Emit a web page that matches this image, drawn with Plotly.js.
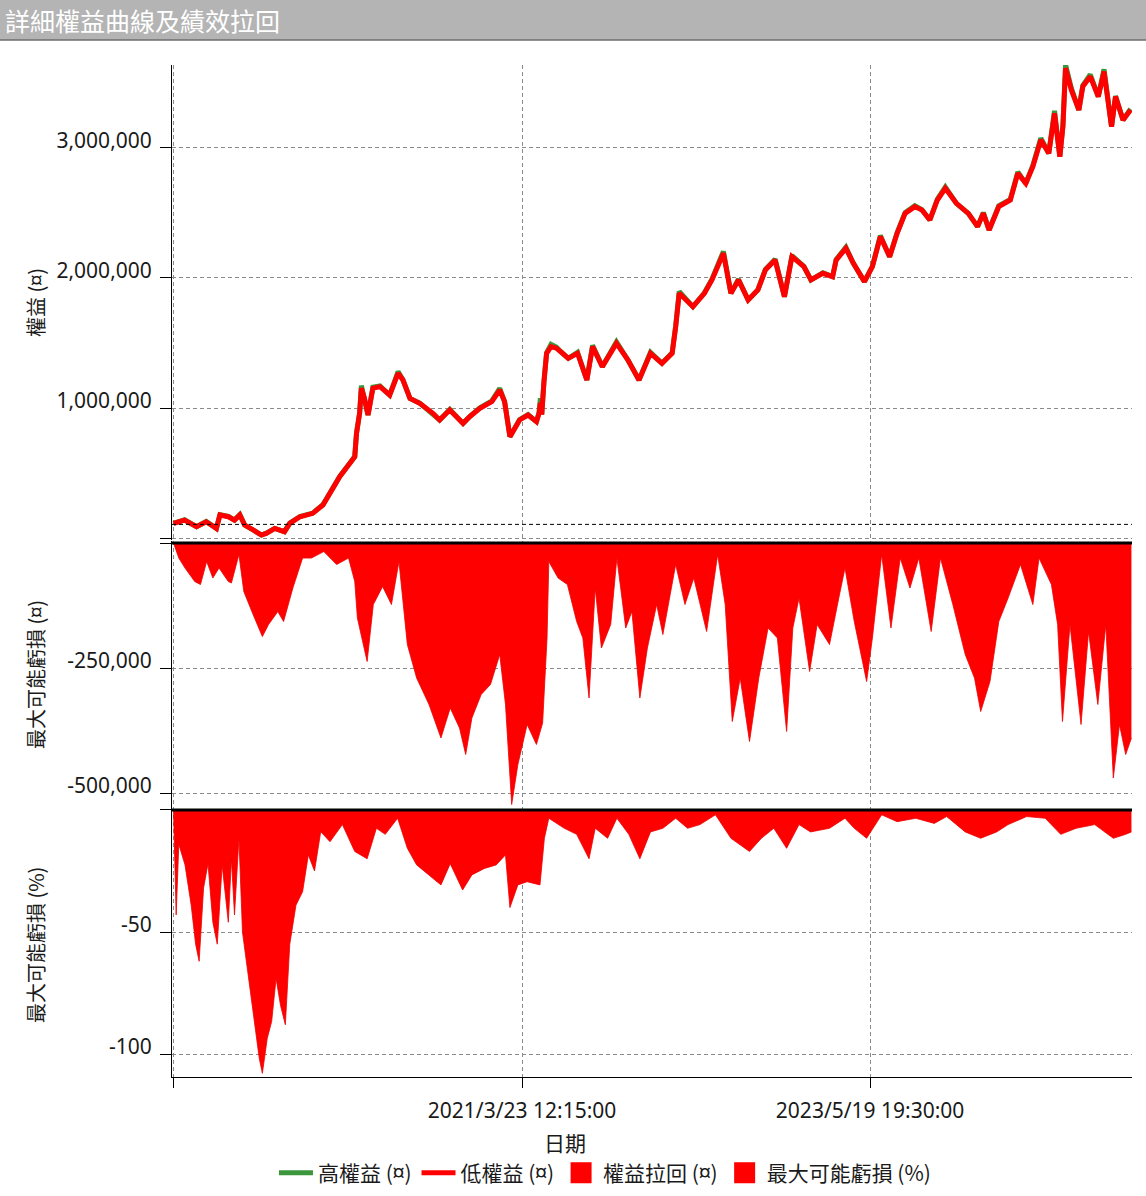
<!DOCTYPE html>
<html>
<head>
<meta charset="utf-8">
<script src="https://cdn.plot.ly/plotly-3.0.1.min.js"></script>
<style>
  html, body { margin: 0; padding: 0; background: #ffffff; }
  #chart { width: 1146px; height: 1196px; }
</style>
</head>
<body>
<div id="chart"></div>
<script>
// ---------- DATA ----------
const chartTitle = '詳細權益曲線及績效拉回';
const xAxisTitle = '日期';
const yTitleEquity = '權益 (¤)';
const yTitleDrawdown = '最大可能虧損 (¤)';
const yTitlePct = '最大可能虧損 (%)';
const seriesNames = ['高權益 (¤)', '低權益 (¤)', '權益拉回 (¤)', '最大可能虧損 (%)'];

const initialCapital = 105000;

const xTickVals = ['2019-01-25 12:00', '2021-03-23 12:15', '2023-05-19 19:30'];
const xTickText = ['', '2021/3/23 12:15:00', '2023/5/19 19:30:00'];

const equityTickVals = [0, 1000000, 2000000, 3000000];
const equityTickText = ['', '1,000,000', '2,000,000', '3,000,000'];
const ddTickVals = [0, -250000, -500000];
const ddTickText = ['', '-250,000', '-500,000'];
const pctTickVals = [0, -50, -100];
const pctTickText = ['', '-50', '-100'];

const equityDates = [
  '2019-01-25','2019-02-19','2019-03-18','2019-04-09','2019-05-02','2019-05-10','2019-05-29','2019-06-12','2019-06-24','2019-07-05',
  '2019-07-24','2019-08-12','2019-08-23','2019-09-11','2019-10-03','2019-10-15','2019-11-07','2019-12-06','2019-12-29','2020-01-14',
  '2020-02-05','2020-02-28','2020-03-10','2020-03-14','2020-03-21','2020-03-25','2020-04-01','2020-04-09','2020-04-20','2020-05-06',
  '2020-05-28','2020-06-16','2020-06-27','2020-07-13','2020-08-04','2020-09-03','2020-09-18','2020-10-11','2020-11-10','2020-11-25',
  '2020-12-18','2021-01-14','2021-02-01','2021-02-12','2021-02-24','2021-03-18','2021-04-06','2021-04-25','2021-05-01','2021-05-04',
  '2021-05-07','2021-05-12','2021-05-18','2021-05-28','2021-06-09','2021-06-23','2021-07-06','2021-07-27','2021-08-17','2021-08-30',
  '2021-09-21','2021-10-23','2021-11-18','2021-12-13','2022-01-08','2022-02-03','2022-02-26','2022-03-06','2022-03-14','2022-04-14',
  '2022-05-10','2022-05-27','2022-06-22','2022-07-09','2022-07-26','2022-08-17','2022-09-08','2022-09-25','2022-10-17','2022-11-07',
  '2022-11-24','2022-12-21','2023-01-06','2023-02-02','2023-02-24','2023-03-04','2023-03-26','2023-04-12','2023-05-07','2023-05-25',
  '2023-06-12','2023-07-03','2023-07-20','2023-08-07','2023-08-29','2023-09-14','2023-10-02','2023-10-19','2023-11-06','2023-12-01',
  '2023-12-28','2024-01-18','2024-01-31','2024-02-13','2024-03-06','2024-04-01','2024-04-18','2024-05-06','2024-05-22','2024-06-09',
  '2024-06-27','2024-07-10','2024-07-22','2024-07-29','2024-08-04','2024-08-17','2024-09-03','2024-09-12','2024-09-29','2024-10-17',
  '2024-10-30','2024-11-16','2024-11-25','2024-12-12','2024-12-29'
];
const equityLow = [
  113000,138000,87000,125000,74000,177000,164000,138000,177000,100000,
  62000,23000,36000,74000,49000,113000,164000,190000,254000,344000,
  472000,575000,625000,805000,959000,1152000,1074000,946000,1152000,1164000,
  1100000,1267000,1215000,1074000,1036000,959000,908000,985000,882000,933000,
  997000,1049000,1138000,1049000,779000,908000,946000,895000,960000,1040000,
  950000,1200000,1420000,1472000,1460000,1421000,1382000,1421000,1215000,1472000,
  1318000,1497000,1369000,1215000,1421000,1344000,1421000,1625000,1882000,1779000,
  1882000,1985000,2190000,1882000,1985000,1831000,1908000,2062000,2138000,1856000,
  2164000,2087000,1985000,2036000,2010000,2138000,2228000,2113000,1972000,2087000,
  2318000,2164000,2344000,2497000,2549000,2523000,2446000,2600000,2690000,2574000,
  2497000,2395000,2497000,2369000,2549000,2600000,2805000,2728000,2856000,3062000,
  2959000,3267000,2933000,3164000,3613000,3446000,3292000,3472000,3549000,3395000,
  3587000,3164000,3395000,3215000,3292000
];
const equityHigh = [
  113000,140000,87000,127000,74000,180000,166000,138000,180000,100000,
  62000,23000,38000,74000,49000,115000,166000,192000,256000,346000,
  474000,577000,627000,807000,961000,1172000,1076000,946000,1160000,1170000,
  1100000,1280000,1217000,1074000,1038000,959000,908000,990000,882000,935000,
  1002000,1055000,1152000,1049000,779000,912000,950000,895000,965000,1075000,
  950000,1205000,1425000,1490000,1468000,1421000,1382000,1428000,1215000,1482000,
  1318000,1508000,1369000,1215000,1428000,1344000,1425000,1630000,1896000,1779000,
  1886000,1990000,2205000,1882000,1990000,1831000,1910000,2066000,2145000,1856000,
  2172000,2090000,1985000,2040000,2010000,2142000,2236000,2113000,1972000,2090000,
  2326000,2164000,2350000,2503000,2556000,2526000,2446000,2606000,2700000,2574000,
  2497000,2395000,2503000,2369000,2555000,2605000,2815000,2728000,2866000,3075000,
  2959000,3285000,2933000,3170000,3640000,3460000,3292000,3480000,3565000,3395000,
  3605000,3164000,3400000,3215000,3300000
];

const ddDates = [
  '2019-01-25','2019-02-06','2019-02-20','2019-03-14','2019-03-27','2019-04-10','2019-04-24','2019-05-08','2019-05-29','2019-06-05',
  '2019-06-22','2019-07-03','2019-07-24','2019-08-14','2019-08-28','2019-09-18','2019-10-01','2019-10-22','2019-11-13','2019-12-03',
  '2019-12-31','2020-01-29','2020-02-25','2020-03-10','2020-03-16','2020-04-07','2020-04-21','2020-05-12','2020-06-01','2020-06-18',
  '2020-07-07','2020-07-28','2020-08-25','2020-09-21','2020-10-12','2020-11-02','2020-11-16','2020-11-30','2020-12-21','2021-01-11',
  '2021-02-01','2021-02-14','2021-02-28','2021-03-14','2021-04-04','2021-04-25','2021-05-09','2021-05-19','2021-05-23','2021-06-13',
  '2021-07-04','2021-07-25','2021-08-08','2021-08-22','2021-09-05','2021-09-19','2021-10-10','2021-10-24','2021-11-13','2021-11-27',
  '2021-12-15','2022-01-01','2022-01-22','2022-02-05','2022-03-06','2022-03-27','2022-04-16','2022-05-15','2022-06-09','2022-06-26',
  '2022-07-12','2022-07-30','2022-08-20','2022-09-10','2022-10-01','2022-10-22','2022-11-12','2022-11-26','2022-12-10','2023-01-03',
  '2023-01-20','2023-02-17','2023-03-10','2023-03-24','2023-04-14','2023-05-12','2023-05-25','2023-06-15','2023-07-06','2023-07-27',
  '2023-08-18','2023-09-07','2023-10-05','2023-10-26','2023-11-23','2023-12-21','2024-01-11','2024-01-25','2024-02-15','2024-03-06',
  '2024-03-27','2024-04-24','2024-05-22','2024-06-05','2024-07-03','2024-07-17','2024-07-28','2024-08-14','2024-09-08','2024-09-25',
  '2024-10-16','2024-11-03','2024-11-20','2024-12-04','2024-12-18','2024-12-31'
];
const ddValues = [
  0,-30000,-50000,-77000,-83000,-37000,-70000,-50000,-77000,-80000,
  -23000,-97000,-143000,-187000,-163000,-137000,-157000,-90000,-30000,-30000,
  -17000,-43000,-30000,-77000,-150000,-237000,-123000,-87000,-123000,-37000,
  -203000,-270000,-323000,-390000,-330000,-370000,-423000,-350000,-303000,-283000,
  -223000,-323000,-523000,-443000,-363000,-403000,-360000,-190000,-37000,-70000,
  -83000,-157000,-190000,-310000,-90000,-210000,-163000,-30000,-170000,-137000,
  -310000,-210000,-123000,-183000,-43000,-123000,-70000,-177000,-23000,-123000,
  -357000,-270000,-397000,-270000,-170000,-190000,-377000,-170000,-110000,-257000,
  -163000,-203000,-110000,-50000,-157000,-277000,-190000,-23000,-170000,-30000,
  -90000,-30000,-177000,-30000,-123000,-223000,-270000,-337000,-277000,-157000,
  -110000,-43000,-123000,-30000,-83000,-163000,-357000,-163000,-363000,-177000,
  -323000,-163000,-470000,-363000,-423000,-390000
];

const pctDates = [
  '2019-01-25','2019-01-31','2019-02-06','2019-02-20','2019-03-06','2019-03-16','2019-03-24','2019-04-03','2019-04-13','2019-04-24',
  '2019-05-04','2019-05-15','2019-05-29','2019-06-05','2019-06-12','2019-06-22','2019-06-30','2019-07-10','2019-07-24','2019-08-07',
  '2019-08-14','2019-08-25','2019-09-04','2019-09-14','2019-09-24','2019-10-05','2019-10-15','2019-10-29','2019-11-13','2019-11-26',
  '2019-12-10','2019-12-24','2020-01-14','2020-02-11','2020-03-10','2020-04-07','2020-04-28','2020-05-18','2020-06-15','2020-07-07',
  '2020-07-28','2020-08-25','2020-09-21','2020-10-12','2020-11-09','2020-11-30','2020-12-28','2021-01-24','2021-02-14','2021-02-24',
  '2021-03-14','2021-04-04','2021-05-03','2021-05-13','2021-05-23','2021-06-27','2021-07-25','2021-08-22','2021-09-05','2021-10-03',
  '2021-10-24','2021-11-20','2021-12-15','2022-01-08','2022-02-05','2022-03-06','2022-04-02','2022-04-30','2022-06-04','2022-07-09',
  '2022-08-20','2022-09-16','2022-10-14','2022-11-12','2022-12-10','2023-01-05','2023-02-17','2023-03-24','2023-04-14','2023-05-12',
  '2023-06-15','2023-07-20','2023-08-31','2023-10-12','2023-11-09','2023-12-21','2024-01-25','2024-03-01','2024-03-27','2024-05-08',
  '2024-06-19','2024-07-24','2024-08-28','2024-10-09','2024-11-20','2024-12-18','2024-12-31'
];
const pctValues = [
  0,-43,-14,-22.5,-39,-55,-62,-32,-22,-46,
  -55,-22.5,-46,-20,-43,-11.6,-50,-63.5,-82.6,-101.8,
  -107.9,-93.6,-86.7,-69,-80,-88,-55,-39,-33.5,-18.4,
  -25,-8.9,-13,-6,-17,-20,-7.5,-10,-3.4,-15.7,
  -22.5,-26.6,-30.7,-22,-32.8,-26.6,-24,-22.5,-18.4,-40,
  -30.7,-29.4,-30.7,-11.6,-3.4,-7.5,-10,-20,-7.5,-11.6,
  -3.4,-10,-20,-9,-7.5,-3.4,-7.5,-6,-2,-11.6,
  -17,-11.6,-7.5,-15.7,-6,-9,-7.5,-3.4,-7.5,-11.6,
  -2,-4.8,-3.4,-5.5,-2.7,-9,-11.6,-9,-6,-2.7,
  -3.4,-10,-7.5,-6,-11.6,-10,-9
];

// ---------- STYLE ----------
const FONT = 'Noto Sans, Noto Sans CJK TC, sans-serif';
const CJK = 'Noto Sans CJK TC, Noto Sans, sans-serif';
const gridDash = '4px,3px';
const gridColor = '#8a8a8a';
const RED = '#ff0000';

const traces = [
  { x: equityDates, y: equityHigh, name: seriesNames[0], type: 'scatter', mode: 'lines',
    line: { color: '#3c963c', width: 5 }, xaxis: 'x', yaxis: 'y', hoverinfo: 'skip' },
  { x: equityDates, y: equityLow, name: seriesNames[1], type: 'scatter', mode: 'lines',
    line: { color: RED, width: 5 }, xaxis: 'x', yaxis: 'y', hoverinfo: 'skip' },
  { x: ddDates, y: ddValues, name: seriesNames[2], type: 'scatter', mode: 'lines',
    fill: 'tozeroy', fillcolor: RED, line: { color: '#ee0000', width: 0.8 },
    xaxis: 'x', yaxis: 'y2', hoverinfo: 'skip', showlegend: false, legendgroup: 'dd' },
  { x: pctDates, y: pctValues, name: seriesNames[3], type: 'scatter', mode: 'lines',
    fill: 'tozeroy', fillcolor: RED, line: { color: '#ee0000', width: 0.8 },
    xaxis: 'x', yaxis: 'y3', hoverinfo: 'skip', showlegend: false, legendgroup: 'pct' },
  // square legend swatches for the two filled series (no data of their own)
  { x: [null], y: [null], name: seriesNames[2], type: 'scatter', mode: 'markers', legendgroup: 'dd',
    marker: { symbol: 'square', size: 16, color: RED, line: { color: RED, width: 5 } },
    xaxis: 'x', yaxis: 'y2', hoverinfo: 'skip' },
  { x: [null], y: [null], name: seriesNames[3], type: 'scatter', mode: 'markers', legendgroup: 'pct',
    marker: { symbol: 'square', size: 16, color: RED, line: { color: RED, width: 5 } },
    xaxis: 'x', yaxis: 'y3', hoverinfo: 'skip' }
];

function yAxis(domain, range, vals, text) {
  return {
    domain: domain, range: range, anchor: 'x',
    tickmode: 'array', tickvals: vals, ticktext: text,
    ticks: 'outside', ticklen: 11, tickcolor: '#000', tickwidth: 1,
    ticklabelstandoff: 4, ticklabelshift: -7,
    showline: true, linecolor: '#000', linewidth: 1,
    showgrid: true, gridcolor: gridColor, griddash: gridDash, gridwidth: 1,
    zeroline: false,
    tickfont: { family: FONT, size: 21, color: '#1a1a1a' },
    fixedrange: true
  };
}

const layout = {
  width: 1146, height: 1196,
  margin: { l: 172, r: 14, t: 65, b: 119, autoexpand: false },
  paper_bgcolor: '#ffffff', plot_bgcolor: '#ffffff',
  font: { family: FONT, size: 19, color: '#1a1a1a' },
  showlegend: true,
  legend: {
    orientation: 'h', x: 0.451, xanchor: 'center', y: -0.095, yanchor: 'middle',
    font: { family: CJK, size: 21, color: '#1a1a1a' },
    bgcolor: 'rgba(0,0,0,0)', itemwidth: 34, tracegroupgap: 0, traceorder: 'normal',
    itemsizing: 'trace'
  },
  xaxis: {
    type: 'date', anchor: 'y3',
    range: ['2019-01-21 14:00', '2025-01-01 07:00'],
    tickmode: 'array', tickvals: xTickVals, ticktext: xTickText,
    ticks: 'outside', ticklen: 10, tickcolor: '#000', tickwidth: 1,
    ticklabelstandoff: 5,
    showline: true, linecolor: '#000', linewidth: 1,
    showgrid: true, gridcolor: gridColor, griddash: gridDash, gridwidth: 1,
    zeroline: false,
    tickfont: { family: FONT, size: 21, color: '#1a1a1a' },
    fixedrange: true
  },
  yaxis: yAxis([0.5306, 1], [-15400, 3638000], equityTickVals, equityTickText),
  yaxis2: yAxis([0.2658, 0.5296], [-530000, 4000], ddTickVals, ddTickText),
  yaxis3: yAxis([0, 0.2658], [-109.4, 0.8], pctTickVals, pctTickText),
  shapes: [
    // title bar
    { type: 'rect', xref: 'paper', yref: 'paper', x0: -0.2, x1: 1.05, y0: 1.0247, y1: 1.08,
      fillcolor: '#b4b4b4', line: { width: 0 }, layer: 'below' },
    { type: 'line', xref: 'paper', yref: 'paper', x0: -0.2, x1: 1.05, y0: 1.0247, y1: 1.0247,
      line: { color: '#6e6e6e', width: 1.5 } },
    // initial capital reference line
    { type: 'line', xref: 'paper', yref: 'y', x0: 0, x1: 1, y0: initialCapital, y1: initialCapital,
      line: { color: '#000', width: 1, dash: gridDash }, layer: 'above' },
    // zero lines of drawdown panels
    { type: 'line', xref: 'paper', yref: 'y2', x0: 0, x1: 1, y0: 0, y1: 0,
      line: { color: '#000', width: 3 }, layer: 'above' },
    { type: 'line', xref: 'paper', yref: 'y3', x0: 0, x1: 1, y0: 0, y1: 0,
      line: { color: '#000', width: 3 }, layer: 'above' }
  ],
  annotations: [
    { text: chartTitle, xref: 'paper', yref: 'paper', x: -0.176, y: 1.0445,
      xanchor: 'left', yanchor: 'middle', showarrow: false,
      font: { family: CJK, size: 25, color: '#ffffff' } },
    { text: yTitleEquity, xref: 'paper', yref: 'paper', x: -0.1427, y: 0.7648,
      xanchor: 'center', yanchor: 'middle', textangle: -90, showarrow: false,
      font: { family: CJK, size: 20, color: '#1a1a1a' } },
    { text: yTitleDrawdown, xref: 'paper', yref: 'paper', x: -0.1427, y: 0.3972,
      xanchor: 'center', yanchor: 'middle', textangle: -90, showarrow: false,
      font: { family: CJK, size: 20, color: '#1a1a1a' } },
    { text: yTitlePct, xref: 'paper', yref: 'paper', x: -0.1427, y: 0.1304,
      xanchor: 'center', yanchor: 'middle', textangle: -90, showarrow: false,
      font: { family: CJK, size: 20, color: '#1a1a1a' } },
    { text: xAxisTitle, xref: 'paper', yref: 'paper', x: 0.409, y: -0.0642,
      xanchor: 'center', yanchor: 'middle', showarrow: false,
      font: { family: CJK, size: 21, color: '#1a1a1a' } }
  ]
};

Plotly.newPlot('chart', traces, layout, { staticPlot: true, displayModeBar: false });
</script>
</body>
</html>
